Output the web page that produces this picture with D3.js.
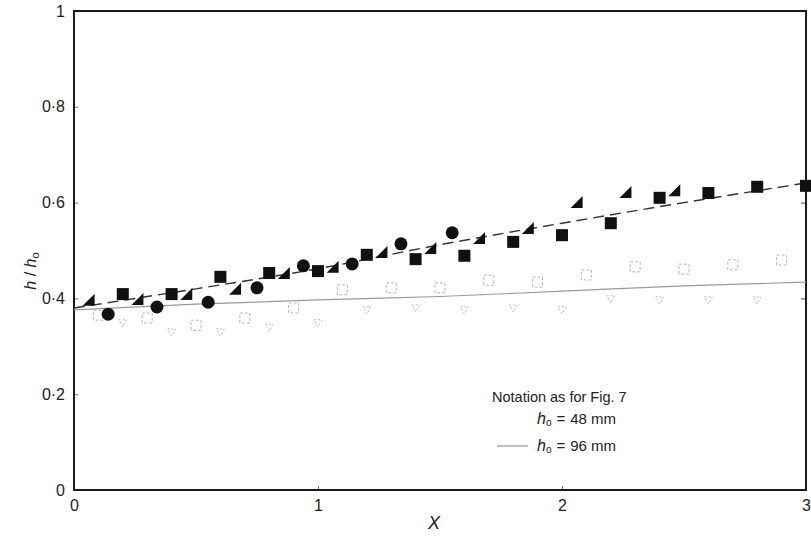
<!DOCTYPE html>
<html>
<head>
<meta charset="utf-8">
<script src="https://cdn.jsdelivr.net/npm/d3@7"></script>
<style>
	body { margin: 0; background: #fff; }
	svg { font-family: "Liberation Sans", Arial, sans-serif; }
	.tick text { fill: #222; }
</style>
</head>
<body>
<div id="chart"></div>
<script>
(function () {
	'use strict';

	// h0 = 48 mm: filled markers
	var squareX = [0.2, 0.4, 0.6, 0.8, 1.0, 1.2, 1.4, 1.6, 1.8, 2.0, 2.2, 2.4, 2.6, 2.8, 3.0];
	var squareY = [0.409, 0.409, 0.445, 0.453, 0.457, 0.491, 0.482, 0.489, 0.518, 0.532, 0.557, 0.610, 0.620, 0.633, 0.635];

	var triangleX = [0.06, 0.26, 0.46, 0.66, 0.86, 1.06, 1.26, 1.46, 1.66, 1.86, 2.06, 2.26, 2.46];
	var triangleY = [0.397, 0.399, 0.409, 0.420, 0.453, 0.466, 0.497, 0.505, 0.526, 0.547, 0.601, 0.622, 0.626];

	var circleX = [0.14, 0.34, 0.55, 0.75, 0.94, 1.14, 1.34, 1.55];
	var circleY = [0.367, 0.382, 0.392, 0.422, 0.468, 0.472, 0.514, 0.537];

	// h0 = 96 mm: open markers
	var openSquareX = [0.1, 0.3, 0.5, 0.7, 0.9, 1.1, 1.3, 1.5, 1.7, 1.9, 2.1, 2.3, 2.5, 2.7, 2.9];
	var openSquareY = [0.365, 0.359, 0.344, 0.359, 0.380, 0.418, 0.422, 0.422, 0.438, 0.434, 0.449, 0.466, 0.461, 0.470, 0.480];

	var downTriX = [0.2, 0.4, 0.6, 0.8, 1.0, 1.2, 1.4, 1.6, 1.8, 2.0, 2.2, 2.4, 2.6, 2.8];
	var downTriY = [0.349, 0.330, 0.330, 0.340, 0.349, 0.376, 0.380, 0.376, 0.380, 0.376, 0.399, 0.397, 0.397, 0.397];

	// fitted curves
	var fitX = [0, 0.5, 1.0, 1.5, 2.0, 2.5, 3.0];
	var fit48 = [0.380, 0.420, 0.462, 0.512, 0.557, 0.600, 0.641];
	var fit96 = [0.376, 0.388, 0.397, 0.404, 0.415, 0.426, 0.434];

	var xTicks = [0, 1, 2, 3];
	var yTicks = [0, 0.2, 0.4, 0.6, 0.8, 1];

	var width = 811, height = 537;

	var svg = d3.select("#chart")
		.append("svg")
		.attr("width", width)
		.attr("height", height);

	var x = d3.scaleLinear().domain([0, 3]).range([74, 806]);
	var y = d3.scaleLinear().domain([0, 1]).range([490, 11]);

	function dotFmt(d) {
		return d === 0 || d === 1 ? String(d) : d3.format(".1f")(d).replace(".", "\u00b7");
	}

	function zip(xs, ys) {
		return xs.map(function(v, i){ return [v, ys[i]]; });
	}

	// axes with inward ticks
	svg.append("g")
		.attr("transform", "translate(" + x(0) + ",0)")
		.call(d3.axisLeft(y).tickValues(yTicks).tickSize(-4).tickPadding(9).tickFormat(dotFmt))
		.call(function(g){ g.select(".domain").remove(); })
		.call(function(g){ g.selectAll("line").attr("stroke", "#777"); })
		.selectAll("text").attr("font-size", 16);

	svg.append("g")
		.attr("transform", "translate(" + x(3) + ",0)")
		.call(d3.axisRight(y).tickValues([0.4, 0.6]).tickSize(-5).tickFormat(""))
		.call(function(g){ g.select(".domain").remove(); })
		.selectAll("line").attr("stroke", "#444");

	svg.append("g")
		.attr("transform", "translate(0," + y(0) + ")")
		.call(d3.axisBottom(x).tickValues(xTicks).tickSize(-4).tickPadding(10).tickFormat(d3.format("d")))
		.call(function(g){ g.select(".domain").remove(); })
		.call(function(g){ g.selectAll("line").attr("stroke", "#777"); })
		.selectAll("text").attr("font-size", 16);

	// frame
	svg.append("rect")
		.attr("x", x(0))
		.attr("y", y(1))
		.attr("width", x(3) - x(0))
		.attr("height", y(0) - y(1))
		.attr("fill", "none")
		.attr("stroke", "#1a1a1a")
		.attr("stroke-width", 2);

	var line = d3.line()
		.x(function(d){ return x(d[0]); })
		.y(function(d){ return y(d[1]); })
		.curve(d3.curveMonotoneX);

	svg.append("path")
		.attr("d", line(zip(fitX, fit96)))
		.attr("fill", "none")
		.attr("stroke", "#9a9a9a")
		.attr("stroke-width", 1.2);

	svg.append("path")
		.attr("d", line(zip(fitX, fit48)))
		.attr("fill", "none")
		.attr("stroke", "#333")
		.attr("stroke-width", 1.4)
		.attr("stroke-dasharray", "11,6");

	// open markers (96 mm)
	svg.selectAll("rect.open")
		.data(zip(openSquareX, openSquareY))
		.enter()
			.append("rect")
			.attr("class", "open")
			.attr("x", function(d){ return x(d[0]) - 5; })
			.attr("y", function(d){ return y(d[1]) - 5; })
			.attr("width", 10)
			.attr("height", 10)
			.attr("fill", "none")
			.attr("stroke", "#b5b5b5")
			.attr("stroke-width", 1)
			.attr("stroke-dasharray", "3,2");

	svg.selectAll("path.down")
		.data(zip(downTriX, downTriY))
		.enter()
			.append("path")
			.attr("class", "down")
			.attr("transform", function(d){ return "translate(" + x(d[0]) + "," + y(d[1]) + ")"; })
			.attr("d", "M-4,-3L4,-3L0,4Z")
			.attr("fill", "none")
			.attr("stroke", "#b5b5b5")
			.attr("stroke-width", 1)
			.attr("stroke-dasharray", "2,2");

	// filled markers (48 mm)
	svg.selectAll("rect.sq")
		.data(zip(squareX, squareY))
		.enter()
			.append("rect")
			.attr("class", "sq")
			.attr("x", function(d){ return x(d[0]) - 6; })
			.attr("y", function(d){ return y(d[1]) - 6; })
			.attr("width", 12)
			.attr("height", 12)
			.attr("fill", "#111");

	svg.selectAll("path.tri")
		.data(zip(triangleX, triangleY))
		.enter()
			.append("path")
			.attr("class", "tri")
			.attr("transform", function(d){ return "translate(" + x(d[0]) + "," + y(d[1]) + ")"; })
			.attr("d", "M-6,6L6,6L6,-6Z")
			.attr("fill", "#111");

	svg.selectAll("circle.dot")
		.data(zip(circleX, circleY))
		.enter()
			.append("circle")
			.attr("class", "dot")
			.attr("cx", function(d){ return x(d[0]); })
			.attr("cy", function(d){ return y(d[1]); })
			.attr("r", 6.5)
			.attr("fill", "#111");

	// axis titles
	svg.append("text")
		.attr("x", 434)
		.attr("y", 529)
		.attr("text-anchor", "middle")
		.attr("font-size", 18)
		.attr("font-style", "italic")
		.attr("fill", "#222")
		.text("X");

	var yt = svg.append("text")
		.attr("transform", "translate(36,271) rotate(-90)")
		.attr("text-anchor", "middle")
		.attr("font-size", 16)
		.attr("fill", "#222");
	yt.append("tspan").attr("font-style", "italic").text("h");
	yt.append("tspan").text(" / ");
	yt.append("tspan").attr("font-style", "italic").text("h");
	yt.append("tspan").attr("font-size", 11).attr("dy", 3).text("o");

	// legend
	svg.append("text")
		.attr("x", 492)
		.attr("y", 402)
		.attr("font-size", 14.5)
		.attr("fill", "#222")
		.text("Notation as for Fig. 7");

	function legendRow(yPos, label) {
		var t = svg.append("text")
			.attr("x", 537)
			.attr("y", yPos)
			.attr("font-size", 15)
			.attr("fill", "#222");
		t.append("tspan").attr("font-style", "italic").attr("font-size", 16).text("h");
		t.append("tspan").attr("font-size", 10).attr("dy", 2).text("o");
		t.append("tspan").attr("dy", -2).attr("dx", 5).text("=");
		t.append("tspan").attr("dx", 5).text(label);
	}
	legendRow(424, "48 mm");
	legendRow(451, "96 mm");

	svg.append("line")
		.attr("x1", 497)
		.attr("x2", 528)
		.attr("y1", 446)
		.attr("y2", 446)
		.attr("stroke", "#9a9a9a")
		.attr("stroke-width", 1.2);

}());
</script>
</body>
</html>
